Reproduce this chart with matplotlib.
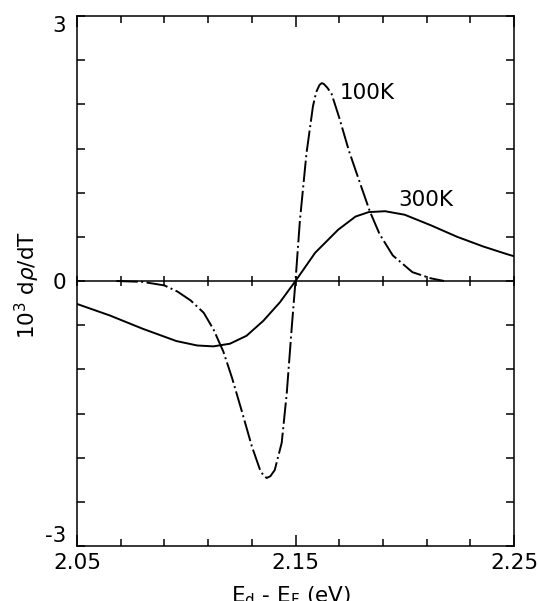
import numpy as np
import matplotlib
matplotlib.use("Agg")
import matplotlib.pyplot as plt

plt.rcParams['font.family'] = ['DejaVu Sans']
plt.rcParams['mathtext.fontset'] = 'dejavusans'

# ---- data ----
x_100K = [2.068, 2.080, 2.090, 2.096, 2.102, 2.108, 2.1125, 2.117, 2.121, 2.1255,
          2.130, 2.1338, 2.1353, 2.1368, 2.1385, 2.1405, 2.1437, 2.146, 2.1483, 2.150,
          2.152, 2.155, 2.158, 2.1595, 2.161, 2.162, 2.163, 2.1645, 2.1665, 2.170,
          2.1745, 2.1795, 2.184, 2.1885, 2.1945, 2.2035, 2.212, 2.218]
y_100K = [0.0, -0.01, -0.05, -0.12, -0.22, -0.36, -0.55, -0.80, -1.10, -1.48,
          -1.87, -2.14, -2.20, -2.23, -2.21, -2.14, -1.83, -1.27, -0.52, 0.0,
          0.68, 1.44, 1.98, 2.14, 2.22, 2.24, 2.23, 2.19, 2.12, 1.85,
          1.47, 1.11, 0.79, 0.53, 0.29, 0.10, 0.03, 0.0]

x_300K = [2.050, 2.065, 2.080, 2.0955, 2.105, 2.1124, 2.120, 2.1276, 2.1353, 2.1429,
          2.150, 2.159, 2.1695, 2.1775, 2.1835, 2.191, 2.200, 2.212, 2.224, 2.236,
          2.246, 2.250]
y_300K = [-0.26, -0.39, -0.54, -0.68, -0.73, -0.74, -0.71, -0.62, -0.45, -0.24,
          0.0, 0.32, 0.58, 0.73, 0.78, 0.79, 0.75, 0.63, 0.50, 0.39,
          0.31, 0.28]

x_major = [2.05, 2.15, 2.25]
x_major_labels = ["2.05", "2.15", "2.25"]
x_minor = [2.07, 2.09, 2.11, 2.13, 2.17, 2.19, 2.21, 2.23]
y_major = [-3, 0, 3]
y_major_labels = ["-3", "0", "3"]
y_minor = [-2.5, -2, -1.5, -1, -0.5, 0.5, 1, 1.5, 2, 2.5]

label_100K = "100K"
label_300K = "300K"

FS = 15.5

# ---- figure ----
fig = plt.figure(figsize=(5.38, 6.01), dpi=100)
ax = fig.add_axes([77/538, 55/601, 437/538, 530/601])

ax.plot(x_100K, y_100K, color='black', lw=1.4,
        linestyle=(0, (11, 1.8, 1.0, 1.8)))
ax.plot(x_300K, y_300K, color='black', lw=1.4, linestyle='-')

ax.set_xlim(2.05, 2.25)
ax.set_ylim(-3, 3)

ax.set_xticks(x_major)
ax.set_xticklabels(x_major_labels)
ax.set_xticks(x_minor, minor=True)
ax.set_yticks(y_major)
ax.set_yticklabels(y_major_labels)
ax.set_yticks(y_minor, minor=True)

for s in ax.spines.values():
    s.set_linewidth(1.1)

ax.tick_params(axis='both', which='both', direction='in', top=True, right=True,
               width=1.1, labelsize=FS)
ax.tick_params(axis='x', which='major', length=8, pad=5)
ax.tick_params(axis='x', which='minor', length=5)
ax.tick_params(axis='y', which='both', length=6, pad=8)

ylabels = ax.get_yticklabels()
ylabels[0].set_va('bottom')
ylabels[2].set_va('top')

# zero line with crossing ticks
zero = ax.secondary_xaxis(0.5)
zero.set_xticks(x_major + x_minor)
zero.tick_params(direction='inout', length=7, width=1.1,
                 labelbottom=False, labeltop=False)
zero.spines['bottom'].set_linewidth(1.1)
zero.spines['top'].set_linewidth(1.1)

ax.text(2.1704, 2.06, label_100K, fontsize=FS, va='baseline', ha='left')
ax.text(2.1969, 0.85, label_300K, fontsize=FS, va='baseline', ha='left')

ax.set_xlabel(r"E$_{\rm d}$ - E$_{\rm F}$ (eV)", fontsize=FS)
ax.xaxis.set_label_coords(0.49, -0.072)
ax.set_ylabel(r"10$^3$ d$\rho$/dT", fontsize=FS)
ax.yaxis.set_label_coords(-0.080, 0.4925)

fig.savefig("out.png", dpi=100)
